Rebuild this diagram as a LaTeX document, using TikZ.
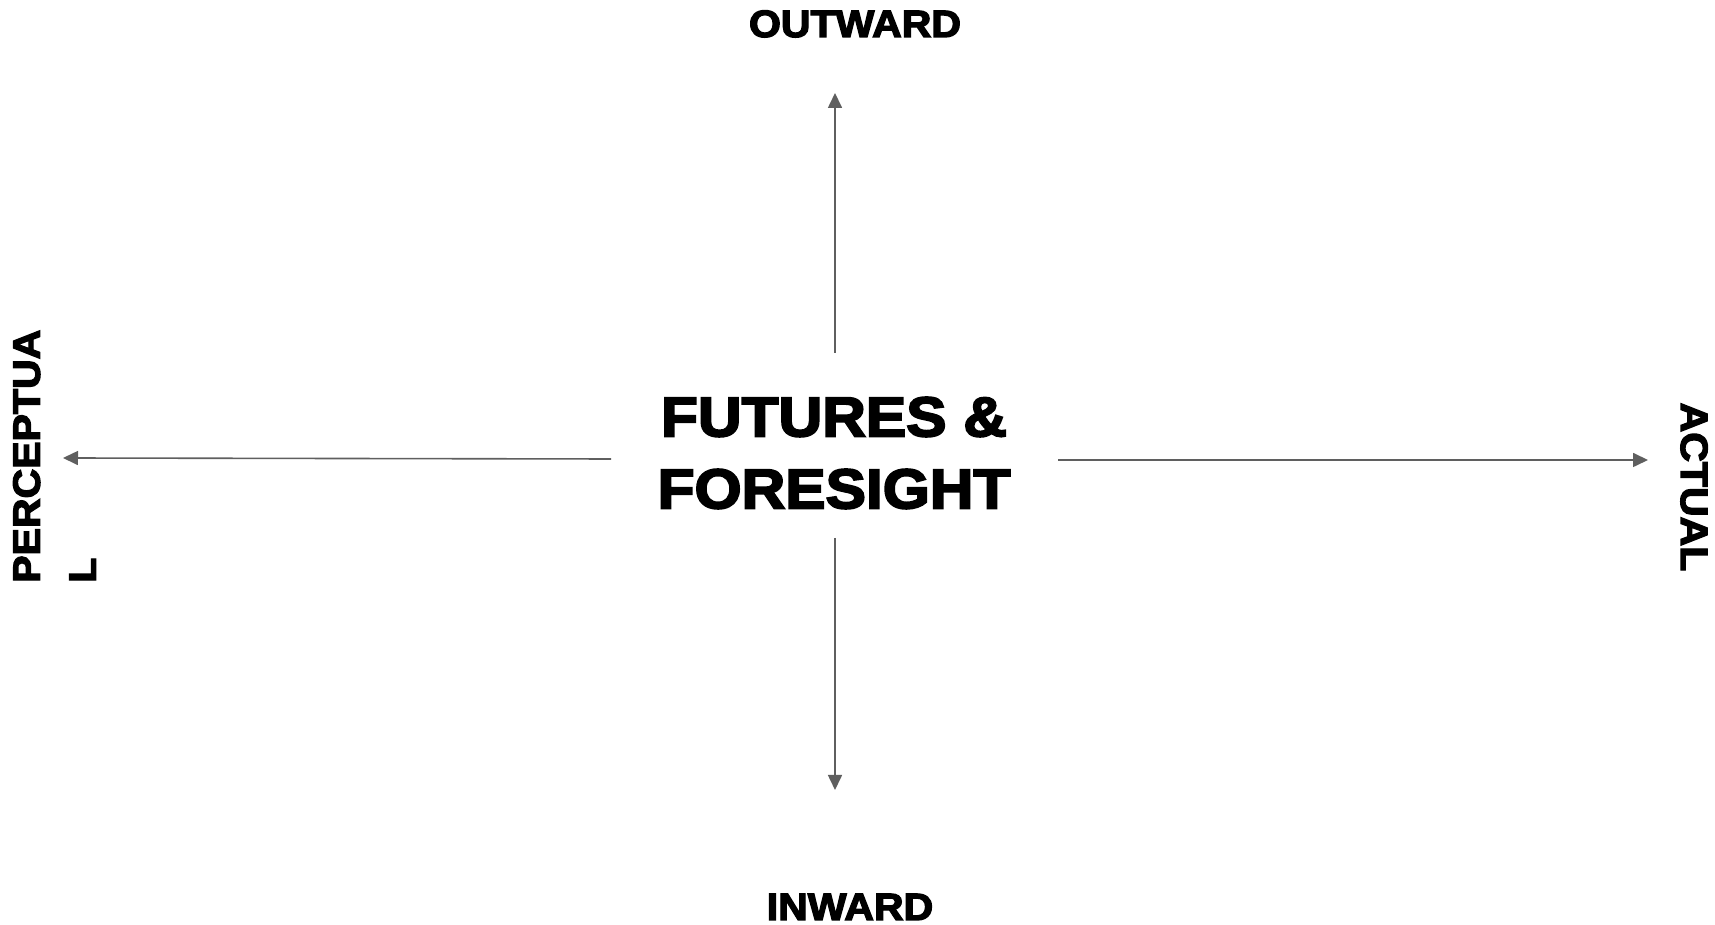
\documentclass[tikz,border=0pt]{standalone}
\usepackage{fontspec}
\usetikzlibrary{arrows.meta}
\newfontfamily\blk[FakeBold=3.5,FakeStretch=1.08]{Liberation Sans Bold}
\definecolor{axisgray}{HTML}{5F5F5F}
\begin{document}
\begin{tikzpicture}[x=1pt,y=1pt,
  axis/.style={draw=axisgray,line width=1.6pt,-{Triangle[length=15pt,width=14pt]}},
  lbl/.style={inner sep=0pt,font=\blk\fontsize{38}{56}\selectfont},
  title/.style={inner sep=0pt,align=center,font=\blk\fontsize{56}{72}\selectfont}]
\useasboundingbox[fill=white] (0,0) rectangle (1715,925);
\node[title] (c) at (834,472) {FUTURES \&\\FORESIGHT};
\node[lbl,anchor=base] (out) at (855,888) {OUTWARD};
\node[lbl,anchor=base] (in) at (850,5) {INWARD};
\node[lbl,anchor=base,rotate=-90] (act) at (1681,438) {ACTUAL};
\node[lbl,anchor=north west,rotate=90,align=left] (per) at (13,342) {PERCEPTUA\\L};
\coordinate (upS) at (835,572);
\coordinate (upE) at (835,832);
\coordinate (dnS) at (835,387);
\coordinate (dnE) at (835,135);
\coordinate (lfS) at (611,466);
\coordinate (lfE) at (63,467);
\coordinate (rtS) at (1058,465);
\coordinate (rtE) at (1648,465);
\draw[axis] (upS) -- (upE);
\draw[axis] (dnS) -- (dnE);
\draw[axis] (lfS) -- (lfE);
\draw[axis] (rtS) -- (rtE);
\end{tikzpicture}
\end{document}
